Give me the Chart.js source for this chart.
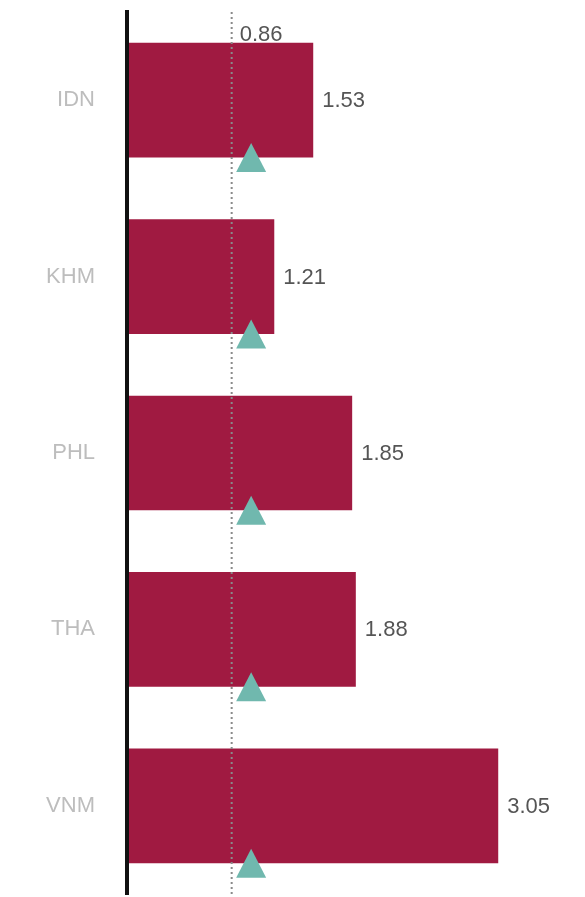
<!DOCTYPE html>
<html>
<head>
<meta charset="utf-8">
<script src="https://cdn.jsdelivr.net/npm/chart.js@4"></script>
<style>
  html, body { margin: 0; padding: 0; background: #fff; overflow: hidden; }
  canvas { display: block; }
</style>
</head>
<body>
<canvas id="chart" width="585" height="897"></canvas>
<script>
const countries = ["IDN", "KHM", "PHL", "THA", "VNM"];
const values = [1.53, 1.21, 1.85, 1.88, 3.05];
const markerValues = [1.02, 1.02, 1.02, 1.02, 1.02];
const benchmark = 0.86;

const BAR_COLOR = "#a01a41";
const TRI_COLOR = "#70b8ae";
const FONT = "'Liberation Sans', Arial, sans-serif";

// dotted benchmark line, its label, the value labels and the triangle markers
const overlay = {
  id: "overlay",
  afterDatasetsDraw(chart) {
    const { ctx, chartArea, scales } = chart;
    const xs = scales.x;
    const meta = chart.getDatasetMeta(0);

    ctx.save();
    // triangles on the lower edge of every bar
    ctx.fillStyle = TRI_COLOR;
    meta.data.forEach((bar, i) => {
      const cx = xs.getPixelForValue(markerValues[i]);
      const cy = bar.y + bar.height / 2;
      const half = 15, h = 29;
      ctx.beginPath();
      ctx.moveTo(cx, cy - h / 2);
      ctx.lineTo(cx + half, cy + h / 2);
      ctx.lineTo(cx - half, cy + h / 2);
      ctx.closePath();
      ctx.fill();
    });

    const bx = xs.getPixelForValue(benchmark);
    ctx.strokeStyle = "#8a8a8a";
    ctx.lineWidth = 2;
    ctx.setLineDash([2, 3]);
    ctx.beginPath();
    ctx.moveTo(bx, chartArea.top);
    ctx.lineTo(bx, chartArea.bottom);
    ctx.stroke();
    ctx.setLineDash([]);

    ctx.font = "22px " + FONT;
    ctx.fillStyle = "#555";
    ctx.textBaseline = "middle";
    ctx.textAlign = "left";
    ctx.fillText(benchmark.toFixed(2), bx + 8, chartArea.top + 23);

    meta.data.forEach((bar, i) => {
      ctx.fillText(values[i].toFixed(2), bar.x + 9, bar.y + 1);
    });
    ctx.restore();
  }
};

new Chart(document.getElementById("chart"), {
  type: "bar",
  data: {
    labels: countries,
    datasets: [{
      data: values,
      backgroundColor: BAR_COLOR,
      borderWidth: 0,
      barPercentage: 0.65,
      categoryPercentage: 1,
    }],
  },
  options: {
    indexAxis: "y",
    responsive: false,
    animation: false,
    layout: { padding: { top: 12, bottom: 3, left: 0, right: 32 } },
    plugins: { legend: { display: false }, tooltip: { enabled: false } },
    scales: {
      x: { min: 0, max: 3.5, display: false },
      y: {
        grid: { display: false, drawTicks: false },
        border: { display: true, color: "#111", width: 4, z: 1 },
        ticks: {
          color: "#bdbdbd",
          padding: 32,
          font: { family: FONT, size: 22 },
        },
        afterFit(scale) {
          scale.width = 127;
          scale.paddingTop = 0;
          scale.paddingBottom = 0;
        },
      },
    },
  },
  plugins: [overlay],
});
</script>
</body>
</html>
